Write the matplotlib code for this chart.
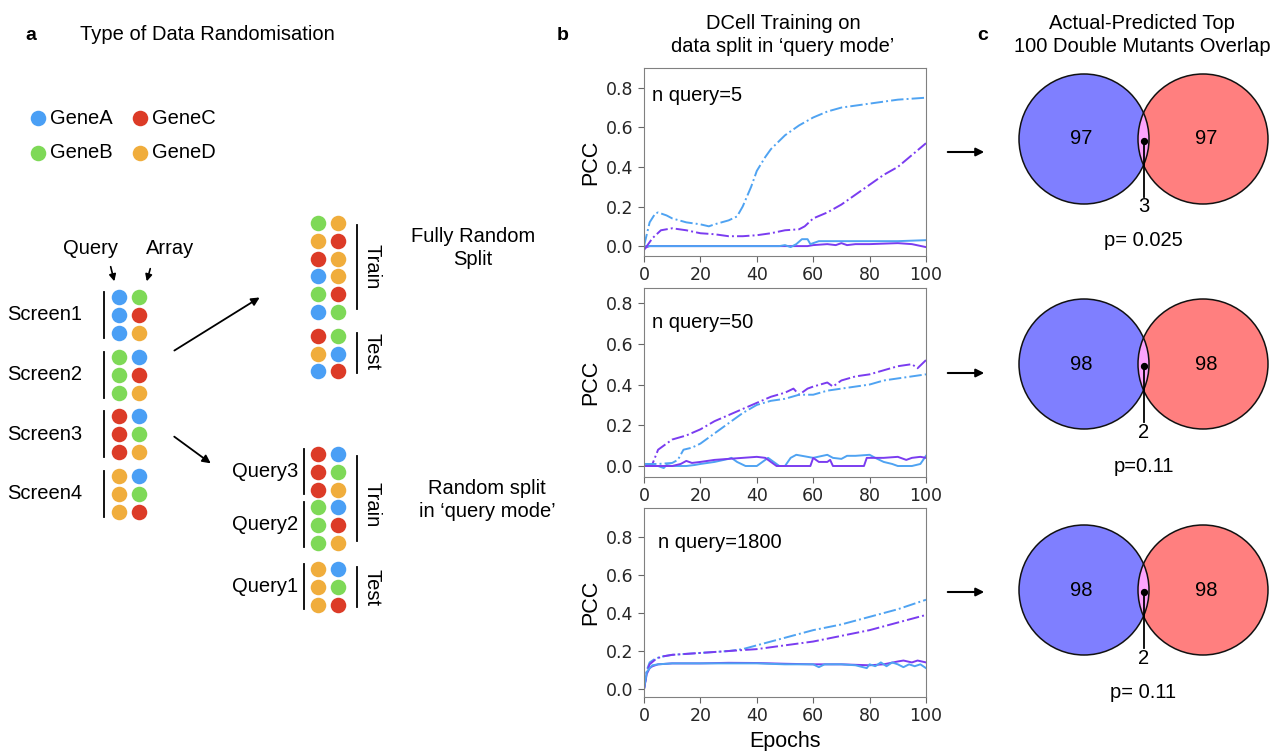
import numpy as np
import matplotlib.pyplot as plt
from matplotlib.patches import Circle

plt.rcParams['font.family'] = ['Liberation Sans', 'DejaVu Sans']

# ---------------- data ----------------
BLUE = '#4a9ff5'
RED = '#dc3b27'
GREEN = '#7ed957'
ORANGE = '#f0ad3c'
gene_color = {'A': BLUE, 'B': GREEN, 'C': RED, 'D': ORANGE}
legend_genes = [('GeneA', 'A'), ('GeneB', 'B'), ('GeneC', 'C'), ('GeneD', 'D')]

screens = ['Screen1', 'Screen2', 'Screen3', 'Screen4']
screen_query = ['A', 'B', 'C', 'D']
screen_array = [['B', 'C', 'D'], ['A', 'C', 'D'], ['A', 'B', 'D'], ['A', 'B', 'C']]

random_train = [('B', 'D'), ('D', 'C'), ('C', 'D'), ('A', 'D'), ('B', 'C'), ('A', 'B')]
random_test = [('C', 'B'), ('D', 'A'), ('A', 'C')]

query_groups = ['Query3', 'Query2', 'Query1']
query_gene = ['C', 'B', 'D']
query_array = [['A', 'B', 'D'], ['A', 'C', 'D'], ['A', 'B', 'C']]

# panel b: PCC per epoch (dash-dot = blue/purple, solid = blue/purple)
n_query = ['n query=5', 'n query=50', 'n query=1800']

p1_dd_blue_x = [0, 2, 4, 5, 8, 10, 15, 20, 23, 25, 30, 33, 35, 38, 40, 43, 45, 50, 55, 60, 65, 70, 75, 80, 85, 90, 95, 100]
p1_dd_blue_y = [0.0, 0.12, 0.165, 0.17, 0.155, 0.14, 0.12, 0.11, 0.10, 0.11, 0.13, 0.15, 0.2, 0.3, 0.38, 0.45, 0.49,
                0.56, 0.61, 0.65, 0.68, 0.70, 0.71, 0.72, 0.73, 0.74, 0.745, 0.75]
p1_dd_purp_x = [0, 3, 6, 10, 15, 20, 25, 30, 35, 40, 45, 50, 55, 57, 60, 65, 70, 75, 80, 85, 90, 95, 100]
p1_dd_purp_y = [-0.02, 0.04, 0.08, 0.09, 0.08, 0.065, 0.06, 0.05, 0.05, 0.055, 0.065, 0.08, 0.085, 0.1, 0.14, 0.17,
                0.21, 0.26, 0.31, 0.36, 0.40, 0.46, 0.52]
p1_s_blue_x = [0, 10, 20, 30, 40, 48, 50, 52, 54, 56, 58, 59, 60, 62, 65, 70, 80, 90, 100]
p1_s_blue_y = [0.0, 0.0, 0.0, 0.0, 0.0, 0.0, 0.005, -0.005, 0.01, 0.035, 0.035, 0.01, 0.015, 0.025, 0.025, 0.025,
               0.025, 0.025, 0.03]
p1_s_purp_x = [0, 2, 10, 20, 30, 40, 50, 58, 60, 65, 68, 70, 72, 75, 80, 90, 95, 100]
p1_s_purp_y = [-0.01, 0.0, 0.0, 0.0, 0.0, 0.0, 0.0, 0.0, 0.005, 0.01, 0.005, 0.015, 0.005, 0.01, 0.01, 0.015, 0.01,
               -0.005]

p2_dd_purp_x = [0, 3, 5, 8, 10, 15, 20, 25, 30, 35, 40, 45, 50, 53, 55, 58, 60, 65, 67, 70, 75, 80, 85, 90, 95, 97, 100]
p2_dd_purp_y = [0.0, 0.01, 0.08, 0.11, 0.13, 0.15, 0.18, 0.22, 0.25, 0.28, 0.31, 0.34, 0.36, 0.38, 0.35, 0.38, 0.39,
                0.41, 0.39, 0.42, 0.44, 0.45, 0.47, 0.49, 0.50, 0.48, 0.52]
p2_dd_blue_x = [0, 5, 10, 12, 14, 17, 20, 25, 30, 35, 40, 45, 50, 55, 60, 65, 70, 75, 80, 85, 90, 95, 100]
p2_dd_blue_y = [0.01, 0.01, 0.015, 0.03, 0.08, 0.09, 0.11, 0.16, 0.21, 0.26, 0.30, 0.32, 0.33, 0.35, 0.35, 0.37, 0.38,
                0.39, 0.40, 0.42, 0.43, 0.44, 0.45]
p2_s_blue_x = [0, 5, 7, 8, 10, 15, 18, 20, 25, 30, 31, 33, 36, 40, 42, 44, 46, 48, 50, 52, 54, 56, 60, 65, 67, 70, 72,
               75, 80, 82, 85, 88, 90, 95, 98, 100]
p2_s_blue_y = [0.0, 0.0, -0.01, 0.005, 0.0, 0.0, 0.005, 0.01, 0.02, 0.035, 0.04, 0.02, 0.0, 0.0, 0.02, 0.04, 0.02, 0.0,
               0.0, 0.04, 0.055, 0.05, 0.04, 0.055, 0.04, 0.035, 0.05, 0.05, 0.055, 0.04, 0.02, 0.01, 0.0, 0.0,
               0.01, 0.05]
p2_s_purp_x = [0, 10, 13, 15, 17, 20, 25, 30, 35, 40, 43, 45, 47, 55, 59, 60, 62, 65, 66, 67, 75, 78, 79, 85, 90, 93,
               95, 98, 100]
p2_s_purp_y = [0.0, 0.0, 0.01, 0.025, 0.015, 0.02, 0.03, 0.035, 0.04, 0.045, 0.04, 0.02, 0.0, 0.0, 0.0, 0.04, 0.02,
               0.02, 0.03, 0.0, 0.0, 0.0, 0.04, 0.04, 0.045, 0.03, 0.04, 0.045, 0.04]

p3_dd_blue_x = [0, 1, 2, 4, 6, 10, 20, 30, 35, 40, 50, 60, 70, 80, 90, 100]
p3_dd_blue_y = [0.0, 0.1, 0.14, 0.16, 0.17, 0.18, 0.19, 0.20, 0.21, 0.23, 0.27, 0.31, 0.34, 0.38, 0.42, 0.47]
p3_dd_purp_x = [0, 1, 2, 4, 6, 10, 20, 30, 40, 50, 60, 70, 80, 90, 100]
p3_dd_purp_y = [0.0, 0.09, 0.13, 0.155, 0.17, 0.18, 0.19, 0.20, 0.21, 0.23, 0.25, 0.28, 0.31, 0.35, 0.39]
p3_s_blue_x = [0, 1, 2, 3, 5, 10, 20, 30, 40, 50, 60, 62, 64, 70, 75, 79, 80, 82, 84, 86, 88, 90, 92, 94, 96, 98, 100]
p3_s_blue_y = [0.0, 0.09, 0.11, 0.125, 0.13, 0.135, 0.135, 0.135, 0.135, 0.13, 0.13, 0.115, 0.13, 0.13, 0.125, 0.11,
               0.13, 0.12, 0.14, 0.12, 0.14, 0.13, 0.115, 0.13, 0.12, 0.13, 0.11]
p3_s_purp_x = [0, 1, 2, 3, 5, 10, 20, 30, 40, 50, 60, 70, 80, 85, 90, 92, 95, 97, 100]
p3_s_purp_y = [0.0, 0.08, 0.11, 0.12, 0.13, 0.135, 0.135, 0.138, 0.137, 0.133, 0.13, 0.13, 0.125, 0.13, 0.145, 0.15,
               0.14, 0.15, 0.14]

panels = [
    [(p1_s_purp_x, p1_s_purp_y, 'p', '-'), (p1_s_blue_x, p1_s_blue_y, 'b', '-'),
     (p1_dd_blue_x, p1_dd_blue_y, 'b', '-.'), (p1_dd_purp_x, p1_dd_purp_y, 'p', '-.')],
    [(p2_dd_purp_x, p2_dd_purp_y, 'p', '-.'), (p2_dd_blue_x, p2_dd_blue_y, 'b', '-.'),
     (p2_s_blue_x, p2_s_blue_y, 'b', '-'), (p2_s_purp_x, p2_s_purp_y, 'p', '-')],
    [(p3_dd_blue_x, p3_dd_blue_y, 'b', '-.'), (p3_dd_purp_x, p3_dd_purp_y, 'p', '-.'),
     (p3_s_purp_x, p3_s_purp_y, 'p', '-'), (p3_s_blue_x, p3_s_blue_y, 'b', '-')],
]
ylims = [(-0.05, 0.9), (-0.054, 0.874), (-0.042, 0.953)]

# panel c: venn overlaps
venn_left = [97, 98, 98]
venn_right = [97, 98, 98]
venn_overlap = [3, 2, 2]
venn_p = ['p= 0.025', 'p=0.11', 'p= 0.11']

# ---------------- figure ----------------
W, H = 1273, 751
fig = plt.figure(figsize=(W / 100, H / 100), dpi=100)
ov = fig.add_axes([0, 0, 1, 1])
ov.set_xlim(0, W)
ov.set_ylim(H, 0)
ov.axis('off')

FS = 14.5

# panel a
ov.text(31, 35, 'a', fontsize=14, fontweight='bold', ha='center', va='center')
ov.text(80, 35, 'Type of Data Randomisation', fontsize=FS, va='center')

for i, (name, g) in enumerate(legend_genes):
    x = 38 + (i // 2) * 102
    y = 118 + (i % 2) * 35
    ov.scatter(x, y, s=125, color=gene_color[g], lw=0)
    ov.text(x + 12, y, name, fontsize=FS, va='center')

ov.text(90, 248, 'Query', fontsize=FS, ha='center', va='center')
ov.text(170, 248, 'Array', fontsize=FS, ha='center', va='center')
ov.annotate('', xy=(115, 284), xytext=(110, 264),
            arrowprops=dict(arrowstyle='-|>', color='k', lw=1.2, mutation_scale=10))
ov.annotate('', xy=(146, 284), xytext=(151, 266),
            arrowprops=dict(arrowstyle='-|>', color='k', lw=1.2, mutation_scale=10))

col1, col2 = 119, 139
for i, name in enumerate(screens):
    y0 = 297 + i * 59.5
    for j in range(3):
        ov.scatter(col1, y0 + j * 18, s=125, color=gene_color[screen_query[i]], lw=0)
        ov.scatter(col2, y0 + j * 18, s=125, color=gene_color[screen_array[i][j]], lw=0)
    ov.plot([104, 104], [y0 - 5, y0 + 41], color='k', lw=1.3)
    ov.text(45, y0 + 18, name, fontsize=FS, ha='center', va='center')

ov.annotate('', xy=(262, 296), xytext=(172, 352),
            arrowprops=dict(arrowstyle='-|>', color='k', lw=1.3, mutation_scale=12))
ov.annotate('', xy=(213, 465), xytext=(172, 435),
            arrowprops=dict(arrowstyle='-|>', color='k', lw=1.3, mutation_scale=12))

c1, c2 = 318, 338
for j, (a, b) in enumerate(random_train):
    ov.scatter(c1, 223 + j * 17.8, s=125, color=gene_color[a], lw=0)
    ov.scatter(c2, 223 + j * 17.8, s=125, color=gene_color[b], lw=0)
for j, (a, b) in enumerate(random_test):
    ov.scatter(c1, 336 + j * 17.6, s=125, color=gene_color[a], lw=0)
    ov.scatter(c2, 336 + j * 17.6, s=125, color=gene_color[b], lw=0)
ov.plot([357, 357], [225, 309], color='k', lw=1.3)
ov.plot([357, 357], [333, 373], color='k', lw=1.3)
ov.text(372, 267, 'Train', fontsize=FS, rotation=-90, ha='center', va='center')
ov.text(372, 352, 'Test', fontsize=FS, rotation=-90, ha='center', va='center')
ov.text(473, 248, 'Fully Random\nSplit', fontsize=FS, ha='center', va='center', linespacing=1.3)

q_tops = [454, 507, 569]
for i, name in enumerate(query_groups):
    y0 = q_tops[i]
    for j in range(3):
        ov.scatter(c1, y0 + j * 17.8, s=125, color=gene_color[query_gene[i]], lw=0)
        ov.scatter(c2, y0 + j * 17.8, s=125, color=gene_color[query_array[i][j]], lw=0)
    ov.plot([304, 304], [y0 - 5, y0 + 40], color='k', lw=1.3)
    ov.text(298, y0 + 17.8, name, fontsize=FS, ha='right', va='center')
ov.plot([357, 357], [456, 541], color='k', lw=1.3)
ov.plot([357, 357], [567, 607], color='k', lw=1.3)
ov.text(372, 505, 'Train', fontsize=FS, rotation=-90, ha='center', va='center')
ov.text(372, 588, 'Test', fontsize=FS, rotation=-90, ha='center', va='center')
ov.text(487, 500, 'Random split\nin \u2018query mode\u2019', fontsize=FS, ha='center', va='center', linespacing=1.3)

# panel b
ov.text(563, 35, 'b', fontsize=14, fontweight='bold', ha='center', va='center')
ov.text(783, 35, 'DCell Training on\ndata split in \u2018query mode\u2019', fontsize=FS,
        ha='center', va='center', linespacing=1.3)

line_color = {'b': '#4fa3f2', 'p': '#7a3cf0'}
ax_boxes = [(68, 256), (288, 477), (508, 697)]
for k, (top, bot) in enumerate(ax_boxes):
    ax = fig.add_axes([644 / W, (H - bot) / H, (926 - 644) / W, (bot - top) / H])
    for xs, ys, c, ls in panels[k]:
        ax.plot(xs, ys, color=line_color[c], ls=ls, lw=1.4)
    ax.set_xlim(0, 100)
    ax.set_ylim(*ylims[k])
    ax.set_xticks([0, 20, 40, 60, 80, 100])
    ax.set_yticks([0.0, 0.2, 0.4, 0.6, 0.8])
    ax.tick_params(labelsize=12.5, labelcolor='#262626', color='#666666', length=4,
                   labelfontfamily='DejaVu Sans')
    for s in ax.spines.values():
        s.set_color('#808080')
    ax.set_ylabel('PCC', fontsize=15.5)
    ax.yaxis.set_label_coords(-0.15, 0.5)
    ax.text(0.03 if k < 2 else 0.05, [0.856, 0.82, 0.815][k], n_query[k], transform=ax.transAxes,
            fontsize=FS, va='center')
    if k == 2:
        ax.set_xlabel('Epochs', fontsize=15.5, labelpad=4)

# panel c
ov.text(983, 35, 'c', fontsize=14, fontweight='bold', ha='center', va='center')
ov.text(1142, 35, 'Actual-Predicted Top\n100 Double Mutants Overlap', fontsize=FS,
        ha='center', va='center', linespacing=1.3)

venn_cy = [139, 364, 590]
arrow_y = [152, 373, 592]
lx, rx, r = 1084, 1203, 65
for k in range(3):
    cy = venn_cy[k]
    ov.annotate('', xy=(987, arrow_y[k]), xytext=(945, arrow_y[k]),
                arrowprops=dict(arrowstyle='-|>', color='k', lw=1.5, mutation_scale=12))
    left = Circle((lx, cy), r, facecolor='#7f7fff', edgecolor='none')
    right = Circle((rx, cy), r, facecolor='#ff7f7f', edgecolor='none')
    ov.add_patch(left)
    ov.add_patch(right)
    lens = Circle((rx, cy), r, facecolor='#fca4fc', edgecolor='none')
    ov.add_patch(lens)
    lens.set_clip_path(left)
    ov.add_patch(Circle((lx, cy), r, facecolor='none', edgecolor='#111111', lw=1.1))
    ov.add_patch(Circle((rx, cy), r, facecolor='none', edgecolor='#111111', lw=1.1))
    mid = (lx + rx) / 2
    ov.text(lx - 3, cy, str(venn_left[k]), fontsize=FS, ha='center', va='center')
    ov.text(rx + 3, cy, str(venn_right[k]), fontsize=FS, ha='center', va='center')
    ov.scatter(mid, cy + 2, s=18, color='k', zorder=5)
    ov.plot([mid, mid], [cy + 2, cy + 58], color='k', lw=1.3)
    ov.text(mid, cy + 68, str(venn_overlap[k]), fontsize=FS, ha='center', va='center')
    ov.text(mid, cy + 102, venn_p[k], fontsize=FS, ha='center', va='center')

fig.savefig('out.png', dpi=100)
